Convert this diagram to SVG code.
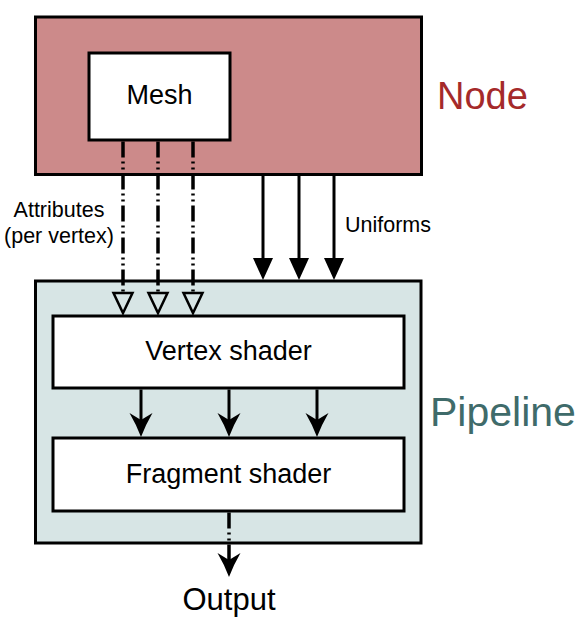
<svg xmlns="http://www.w3.org/2000/svg" width="580" height="631" viewBox="0 0 580 631">
  <style>
    text { font-family: "Liberation Sans", Arial, sans-serif; fill: #000; }
    .box { stroke: #000; stroke-width: 3; }
    .white { fill: #fff; }
    .line { stroke: #000; stroke-width: 3; fill: none; }
    .dash { stroke-width: 3.5; stroke-dasharray: 16 4 2 4 2 4; }
  </style>
  <defs>
    <marker id="tri" markerUnits="userSpaceOnUse" viewBox="0 -12 24 24" markerWidth="24" markerHeight="24" refX="0" refY="0" orient="auto">
      <path d="M0,-10 L22,0 L0,10 Z" fill="#000"/>
    </marker>
    <marker id="stealth" markerUnits="userSpaceOnUse" viewBox="0 -13 26 26" markerWidth="26" markerHeight="26" refX="7" refY="0" orient="auto">
      <path d="M24,0 Q11,-5 0,-11.5 L7,0 L0,11.5 Q11,5 24,0 Z" fill="#000"/>
    </marker>
    <marker id="open" markerUnits="userSpaceOnUse" viewBox="-2 -12 26 24" markerWidth="26" markerHeight="24" refX="0" refY="0" orient="auto">
      <path d="M0,-9.5 L20,0 L0,9.5 Z" fill="#d7e5e5" stroke="#000" stroke-width="2.5" stroke-linejoin="miter"/>
    </marker>
  </defs>

  <g id="node">
    <rect class="box" x="35.5" y="17" width="386" height="157.5" fill="#cc8a8a"/>
    <text x="437" y="109" font-size="38" style="fill:#a52a2a">Node</text>
  </g>
  <g id="mesh">
    <rect class="box white" x="89" y="53" width="141" height="87"/>
    <text x="159.5" y="104" font-size="27" text-anchor="middle">Mesh</text>
  </g>
  <g id="pipeline">
    <rect class="box" x="35.5" y="281" width="385.5" height="262" fill="#d7e5e5"/>
    <text x="430" y="426" font-size="41" style="fill:#3f6b6a">Pipeline</text>
  </g>
  <g id="vertex-shader">
    <rect class="box white" x="53" y="316" width="351" height="72"/>
    <text x="228.5" y="360" font-size="27" text-anchor="middle">Vertex shader</text>
  </g>
  <g id="fragment-shader">
    <rect class="box white" x="53" y="438" width="351" height="73"/>
    <text x="228.5" y="483" font-size="27" text-anchor="middle">Fragment shader</text>
  </g>

  <g id="connectors">
    <g id="attributes">
      <line class="line dash" x1="123" y1="141.5" x2="123" y2="293" marker-end="url(#open)"/>
      <line class="line dash" x1="158" y1="141.5" x2="158" y2="293" marker-end="url(#open)"/>
      <line class="line dash" x1="193" y1="141.5" x2="193" y2="293" marker-end="url(#open)"/>
      <text x="59" y="217" font-size="21.5" text-anchor="middle">Attributes</text>
      <text x="59" y="243" font-size="21.5" text-anchor="middle">(per vertex)</text>
    </g>
    <g id="uniforms">
      <line class="line" x1="263" y1="176" x2="263" y2="258" marker-end="url(#tri)"/>
      <line class="line" x1="299" y1="176" x2="299" y2="258" marker-end="url(#tri)"/>
      <line class="line" x1="334" y1="176" x2="334" y2="258" marker-end="url(#tri)"/>
      <text x="345" y="232" font-size="21.5">Uniforms</text>
    </g>
    <g id="varyings">
      <line class="line" x1="141" y1="389.5" x2="141" y2="420" marker-end="url(#stealth)"/>
      <line class="line" x1="229" y1="389.5" x2="229" y2="420" marker-end="url(#stealth)"/>
      <line class="line" x1="317" y1="389.5" x2="317" y2="420" marker-end="url(#stealth)"/>
    </g>
    <g id="output">
      <line class="line dash" x1="229" y1="512.5" x2="229" y2="560" marker-end="url(#stealth)"/>
      <text x="229" y="610" font-size="31" text-anchor="middle">Output</text>
    </g>
  </g>
</svg>
